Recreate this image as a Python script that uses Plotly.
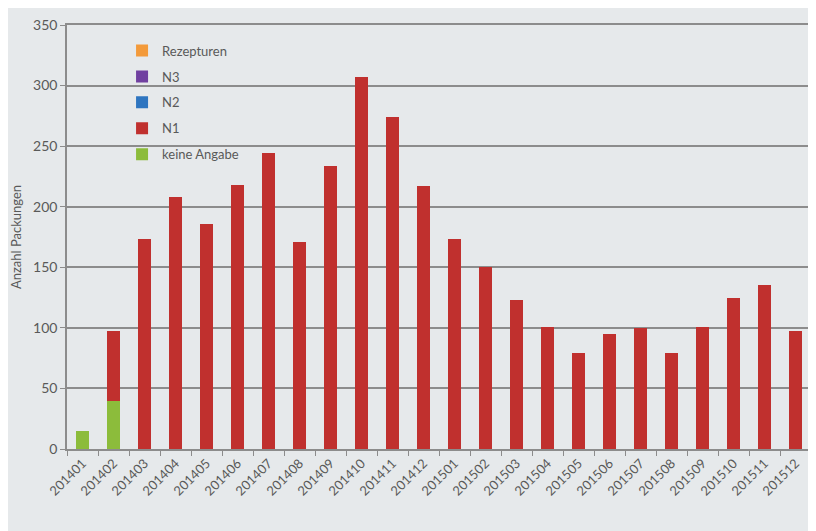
import plotly.graph_objects as go

months = ["201401","201402","201403","201404","201405","201406","201407","201408",
          "201409","201410","201411","201412","201501","201502","201503","201504",
          "201505","201506","201507","201508","201509","201510","201511","201512"]
keine_angabe = [15, 40, 0, 0, 0, 0, 0, 0, 0, 0, 0, 0, 0, 0, 0, 0, 0, 0, 0, 0, 0, 0, 0, 0]
n1 = [0, 57, 173, 208, 186, 218, 244, 171, 234, 307, 274, 217, 173, 150, 123, 101,
      79, 95, 100, 79, 101, 125, 135, 97]
n2 = [0] * 24
n3 = [0] * 24
rezepturen = [0] * 24

series = [
    ("keine Angabe", keine_angabe, "#8cbc3b", 5),
    ("N1", n1, "#c0302e", 4),
    ("N2", n2, "#2e75c0", 3),
    ("N3", n3, "#7040a0", 2),
    ("Rezepturen", rezepturen, "#f39a3a", 1),
]

fig = go.Figure()
for name, vals, col, rank in series:
    fig.add_trace(go.Bar(x=months, y=vals, name=name, marker_color=col,
                         marker_line_width=0, legendgroup=name, legendrank=rank))

grey = "#595959"
fig.update_layout(
    barmode="stack",
    bargap=0.55,
    width=816, height=531,
    margin=dict(l=59, r=13, t=17, b=90),
    paper_bgcolor="#e6e9eb",
    plot_bgcolor="#e6e9eb",
    font=dict(family="Lato, Open Sans, sans-serif", size=13, color=grey),
    legend=dict(x=0.074, y=0.975, xanchor="left", yanchor="top",
                traceorder="grouped", tracegroupgap=6,
                bgcolor="rgba(0,0,0,0)", font=dict(size=13, color=grey),
                itemwidth=30),
    showlegend=True,
)
fig.update_yaxes(range=[0, 350], dtick=50, showgrid=True, gridcolor="#8c8c8c",
                 gridwidth=1.5, showline=True, linecolor="#8c8c8c", linewidth=1.5,
                 mirror=True, ticks="outside", ticklen=5, tickcolor="#8c8c8c",
                 zeroline=False, automargin=False,
                 title=dict(text="Anzahl Packungen", font=dict(size=13, color=grey),
                            standoff=18),
                 tickfont=dict(size=14, color=grey))
fig.update_xaxes(type="category", tickangle=-45, showline=True, linecolor="#8c8c8c",
                 linewidth=1.5, mirror=True, ticks="outside", ticklen=5,
                 tickcolor="#8c8c8c", tickson="boundaries", automargin=False,
                 tickfont=dict(size=13, color=grey))

fig.write_html("out.html")
